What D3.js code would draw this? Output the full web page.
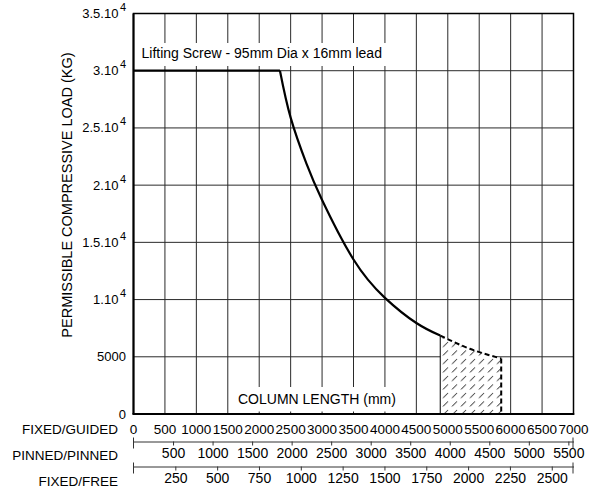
<!DOCTYPE html>
<html><head><meta charset="utf-8">
<script src="https://cdn.jsdelivr.net/npm/d3@7"></script>
<style>
body{margin:0;background:#fff}
text{font-family:"Liberation Sans",Arial,sans-serif;fill:#000}
</style>
</head><body>
<svg id="chart" width="592" height="488"></svg>
<script>
// ---------- data ----------
const guidedTicks = [0,500,1000,1500,2000,2500,3000,3500,4000,4500,5000,5500,6000,6500,7000];
const pinnedTicks = [500,1000,1500,2000,2500,3000,3500,4000,4500,5000,5500];
const freeTicks = [250,500,750,1000,1250,1500,1750,2000,2250,2500];
const loadTicks = [0,5000,10000,15000,20000,25000,30000,35000];
const loadLabelMain = ["0","5000","1.10","1.5.10","2.10","2.5.10","3.10","3.5.10"];
const loadLabelSup  = ["","","4","4","4","4","4","4"];
const flatLength = [0, 2330];
const flatLoad = [30000, 30000];
const curveLength = [2330, 2500, 2750, 3000, 3500, 4000, 4500, 4880];
const curveLoad   = [30000, 25900, 21900, 18700, 13500, 10150, 7950, 6850];
const dashLength = [4880, 5350, 5850];
const dashLoad   = [6850, 5700, 4850];
const rowNames = ["FIXED/GUIDED","PINNED/PINNED","FIXED/FREE"];
const title = "Lifting Screw - 95mm Dia x 16mm lead";
const xTitle = "COLUMN LENGTH (mm)";
const yTitle = "PERMISSIBLE COMPRESSIVE LOAD (KG)";

// ---------- scales ----------
const L = 133.5, R = 573.5, T = 13.5, B = 414;
const x = d3.scaleLinear().domain([0,7000]).range([L,R]);
const xPinned = d3.scaleLinear().domain([0,5565]).range([L,R]);
const xFree = d3.scaleLinear().domain([0,2630]).range([L,R]);
const y = d3.scaleLinear().domain([0,35000]).range([B,T]);

const svg = d3.select("#chart");
svg.append("rect").attr("width",592).attr("height",488).attr("fill","#fff");

const defs = svg.append("defs");
const pat = defs.append("pattern").attr("id","hatch").attr("patternUnits","userSpaceOnUse")
  .attr("width",9).attr("height",8.5);
pat.append("rect").attr("width",9).attr("height",8.5).attr("fill","#fff");
pat.append("line").attr("x1",2).attr("y1",7).attr("x2",7).attr("y2",2)
  .attr("stroke","#000").attr("stroke-width",0.9);

// grid
const grid = svg.append("g").attr("stroke","#2a2a2a").attr("stroke-width",1);
grid.selectAll("line.v").data(guidedTicks.slice(1,-1)).join("line")
  .attr("x1",d=>x(d)).attr("x2",d=>x(d)).attr("y1",T).attr("y2",B);
grid.selectAll("line.h").data(loadTicks.slice(1,-1)).join("line")
  .attr("x1",L).attr("x2",R).attr("y1",d=>y(d)).attr("y2",d=>y(d));

// label boxes
svg.append("rect").attr("x",L+1).attr("y",43).attr("width",268).attr("height",23).attr("fill","#fff");
svg.append("text").attr("x",141.5).attr("y",57.5).attr("font-size",14).text(title);
svg.append("rect").attr("x",232).attr("y",387).attr("width",174).attr("height",24.5).attr("fill","#fff");
svg.append("text").attr("x",238).attr("y",403.5).attr("font-size",14).text(xTitle);

// hatched region
const hatchPts = [[dashLength[0],0]].concat(dashLength.map((d,i)=>[d,dashLoad[i]])).concat([[dashLength[dashLength.length-1],0]]);
svg.append("path").datum(hatchPts)
  .attr("d", d3.line().x(d=>x(d[0])).y(d=>y(d[1])))
  .attr("fill","url(#hatch)").attr("stroke","none");
svg.append("line").attr("x1",x(dashLength[0])).attr("x2",x(dashLength[0]))
  .attr("y1",y(0)).attr("y2",y(dashLoad[0])).attr("stroke","#000").attr("stroke-width",1);
svg.append("path").datum(dashLength.map((d,i)=>[d,dashLoad[i]]))
  .attr("d", d3.line().x(d=>x(d[0])).y(d=>y(d[1])).curve(d3.curveMonotoneX))
  .attr("fill","none").attr("stroke","#000").attr("stroke-width",2).attr("stroke-dasharray","5,3");
svg.append("line").attr("x1",x(dashLength[2])).attr("x2",x(dashLength[2]))
  .attr("y1",y(dashLoad[2])).attr("y2",y(0)).attr("stroke","#000").attr("stroke-width",2)
  .attr("stroke-dasharray","5,3");

// frame
svg.append("rect").attr("x",L).attr("y",T).attr("width",R-L).attr("height",B-T)
  .attr("fill","none").attr("stroke","#000").attr("stroke-width",1.5);
svg.append("line").attr("x1",L-1).attr("x2",R+0.75).attr("y1",B).attr("y2",B)
  .attr("stroke","#000").attr("stroke-width",2);
svg.append("line").attr("x1",L).attr("x2",L).attr("y1",T).attr("y2",B)
  .attr("stroke","#000").attr("stroke-width",2);

// curves
svg.append("path").datum(flatLength.map((d,i)=>[d,flatLoad[i]]))
  .attr("d", d3.line().x(d=>x(d[0])).y(d=>y(d[1])))
  .attr("fill","none").attr("stroke","#000").attr("stroke-width",2.2);
svg.append("path").datum(curveLength.map((d,i)=>[d,curveLoad[i]]))
  .attr("d", d3.line().x(d=>x(d[0])).y(d=>y(d[1])).curve(d3.curveNatural))
  .attr("fill","none").attr("stroke","#000").attr("stroke-width",2.2);

// y tick labels
const yl = svg.append("g").attr("font-size",13).attr("text-anchor","end");
loadTicks.forEach((v,i)=>{
  const t = yl.append("text").attr("x",126).attr("y",y(v)+4.5);
  t.append("tspan").text(loadLabelMain[i]);
  if (loadLabelSup[i]) t.append("tspan").attr("dx",1.5).attr("dy",-7).attr("font-size",11).text(loadLabelSup[i]);
});
svg.append("text").attr("transform","translate(72,195) rotate(-90)")
  .attr("text-anchor","middle").attr("font-size",14.5).text(yTitle);

// bottom scales
const gx = svg.append("g").attr("font-size",13.5).attr("text-anchor","middle");
gx.selectAll("text").data(guidedTicks).join("text")
  .attr("x",d=>x(d)).attr("y",433.5).text(d=>d);

const pinnedAxis = svg.append("g").attr("transform","translate(0,441.5)")
  .call(d3.axisBottom(xPinned).tickValues(pinnedTicks).tickSize(4).tickSizeOuter(0).tickPadding(3).tickFormat(d=>d));
const freeAxis = svg.append("g").attr("transform","translate(0,466.5)")
  .call(d3.axisBottom(xFree).tickValues(freeTicks).tickSize(4).tickSizeOuter(0).tickPadding(3).tickFormat(d=>d));
[pinnedAxis, freeAxis].forEach(a=>{
  a.select(".domain").attr("stroke","#333");
  a.selectAll(".tick line").attr("stroke","#333");
  a.selectAll(".tick text").attr("font-size",14).attr("font-family","'Liberation Sans',Arial,sans-serif").attr("fill","#000");
  [L,R-0.5].forEach(px=>a.append("line").attr("x1",px).attr("x2",px).attr("y1",-4).attr("y2",7).attr("stroke","#333"));
});

const rn = svg.append("g").attr("font-size",13.5).attr("text-anchor","end");
[433.5,460,486].forEach((yy,i)=>rn.append("text").attr("x",118).attr("y",yy).text(rowNames[i]));
</script>
</body></html>
